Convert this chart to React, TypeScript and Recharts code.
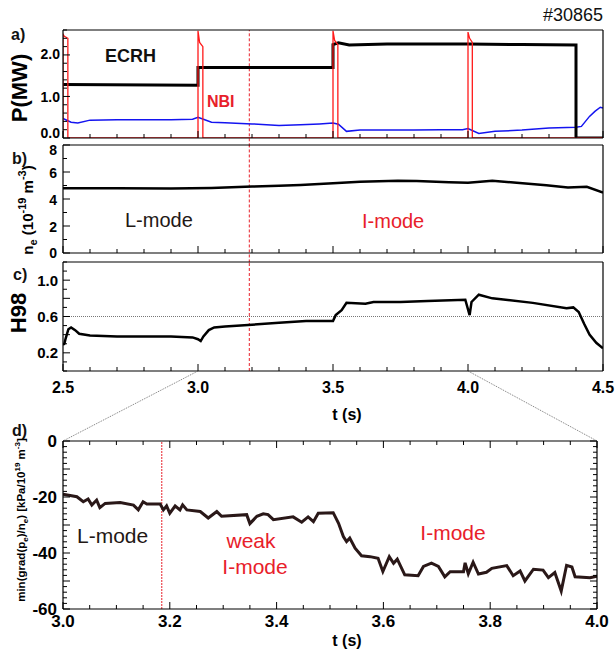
import React from "react";
import { LineChart, Line, XAxis, YAxis, ReferenceLine } from "recharts";

// a) heating power
const ecrhT = [2.5, 3.0, 3.0, 3.5, 3.5, 3.52, 3.56, 3.7, 4.0, 4.2, 4.4, 4.4, 4.5];
const ecrhP = [1.29, 1.27, 1.7, 1.7, 2.25, 2.29, 2.24, 2.26, 2.26, 2.25, 2.24, 0, 0];

const nbiT = [2.5, 2.5, 2.505, 2.518, 2.518, 3.0, 3.0, 3.006, 3.018, 3.018, 3.5, 3.5, 3.506, 3.518, 3.518, 4.0, 4.0, 4.006, 4.016, 4.016, 4.5];
const nbiP = [0, 2.5, 2.45, 2.4, 0, 0, 2.58, 2.3, 2.2, 0, 0, 2.58, 2.35, 2.25, 0, 0, 2.55, 2.4, 2.3, 0, 0];

const radT = [2.5, 2.51, 2.53, 2.555, 2.6, 2.7, 2.8, 2.9, 2.98, 3.0, 3.02, 3.05, 3.1, 3.2, 3.3, 3.38, 3.45, 3.5, 3.52, 3.55, 3.6, 3.7, 3.8, 3.9, 3.98, 4.0, 4.04, 4.1, 4.2, 4.3, 4.4, 4.42, 4.45, 4.47, 4.49, 4.5];
const radP = [0.47, 0.44, 0.38, 0.36, 0.43, 0.44, 0.44, 0.44, 0.45, 0.5, 0.45, 0.38, 0.37, 0.34, 0.3, 0.32, 0.34, 0.36, 0.33, 0.16, 0.19, 0.19, 0.19, 0.2, 0.2, 0.23, 0.11, 0.16, 0.19, 0.24, 0.26, 0.28, 0.52, 0.64, 0.74, 0.72];

// b) density
const neT = [2.5, 2.7, 2.9, 3.05, 3.15, 3.2, 3.3, 3.38, 3.5, 3.6, 3.74, 3.81, 3.93, 4.0, 4.09, 4.18, 4.29, 4.37, 4.44, 4.5];
const neV = [4.8, 4.8, 4.78, 4.82, 4.88, 4.92, 4.98, 5.04, 5.16, 5.28, 5.36, 5.33, 5.24, 5.2, 5.36, 5.2, 5.02, 4.85, 4.9, 4.47];

// c) confinement factor
const h98T = [2.5, 2.505, 2.51, 2.52, 2.53, 2.545, 2.56, 2.6, 2.7, 2.8, 2.9, 2.98, 3.0, 3.01, 3.02, 3.04, 3.06, 3.1, 3.2, 3.3, 3.4, 3.5, 3.51, 3.532, 3.55, 3.62, 3.65, 3.75, 3.85, 3.99, 4.006, 4.013, 4.04, 4.09, 4.24, 4.365, 4.39, 4.41, 4.43, 4.45, 4.475, 4.5];
const h98V = [0.29, 0.3, 0.36, 0.46, 0.48, 0.45, 0.41, 0.39, 0.38, 0.38, 0.38, 0.37, 0.35, 0.33, 0.38, 0.45, 0.48, 0.49, 0.51, 0.53, 0.55, 0.55, 0.615, 0.67, 0.75, 0.74, 0.76, 0.76, 0.77, 0.785, 0.615, 0.76, 0.84, 0.8, 0.75, 0.69, 0.7, 0.65, 0.52, 0.4, 0.31, 0.25];

// d) edge gradient
const gradT = [3.0, 3.026, 3.038, 3.047, 3.054, 3.063, 3.069, 3.079, 3.107, 3.132, 3.141, 3.15, 3.157, 3.182, 3.188, 3.194, 3.2, 3.21, 3.219, 3.224, 3.232, 3.257, 3.272, 3.288, 3.297, 3.344, 3.35, 3.363, 3.375, 3.384, 3.394, 3.431, 3.447, 3.459, 3.469, 3.478, 3.506, 3.516, 3.525, 3.531, 3.537, 3.547, 3.559, 3.575, 3.59, 3.599, 3.611, 3.619, 3.626, 3.64, 3.665, 3.675, 3.69, 3.703, 3.715, 3.725, 3.75, 3.753, 3.759, 3.768, 3.778, 3.793, 3.803, 3.831, 3.843, 3.856, 3.865, 3.881, 3.899, 3.909, 3.921, 3.933, 3.943, 3.953, 3.959, 3.987, 4.0];
const gradV = [-19.0, -19.9, -21.7, -20.7, -22.9, -21.1, -23.8, -22.3, -22.0, -22.9, -24.6, -21.7, -22.5, -22.5, -24.6, -23.2, -25.8, -23.2, -24.6, -22.8, -24.6, -25.2, -27.5, -25.2, -26.9, -26.3, -29.5, -26.9, -26.0, -26.3, -28.1, -27.1, -29.0, -27.1, -28.8, -25.8, -25.6, -29.4, -34.1, -35.9, -34.7, -38.3, -41.0, -41.3, -41.9, -46.6, -41.3, -43.7, -42.2, -47.8, -48.1, -44.8, -43.6, -44.8, -48.5, -46.7, -46.7, -43.5, -47.4, -43.3, -47.5, -46.9, -45.5, -44.5, -48.1, -46.4, -50.0, -45.8, -46.1, -48.8, -47.0, -53.6, -44.4, -45.0, -48.5, -48.8, -48.3];

// axis ticks
const xLabelsTop = [2.5, 3.0, 3.5, 4.0, 4.5];
const xLabelsZoom = [3.0, 3.2, 3.4, 3.6, 3.8, 4.0];
const yLabelsA = [0, 1, 2];
const yLabelsB = [0, 2, 4, 6, 8];
const yLabelsC = [0.2, 0.6, 1.0];
const yLabelsD = [0, -20, -40, -60];

const steps = (a: number, b: number, s: number) => {
  const out: number[] = [];
  const n = Math.round((b - a) / s);
  for (let i = 0; i <= n; i++) out.push(Math.round((a + i * s) * 1000) / 1000);
  return out;
};

const toPts = (t: number[], v: number[]) => t.map((x, i) => ({ t: x, v: v[i] }));

const FONT = "'Liberation Sans', Arial, Helvetica, sans-serif";
const RED = "#e8202a";
const W = 616;
const H = 652;
const LEFT = 63;
const MARG = 30;

const boxA = { top: 30, bottom: 138, right: 603 };
const boxB = { top: 145, bottom: 253, right: 603 };
const boxC = { top: 262, bottom: 371, right: 603 };
const boxD = { top: 441, bottom: 609, right: 597 };

const near = (arr: number[], v: number) => arr.some((m) => Math.abs(m - v) < 1e-6);

type TickOpts = {
  majors: number[];
  labels?: number[];
  fmt?: (v: number) => string;
  size?: number;
  gap?: number;
  nudge?: { [k: string]: number };
};

const tickFor = (side: "bottom" | "top" | "left" | "right", o: TickOpts) => (props: any) => {
  const { x, y, payload } = props;
  const v = payload.value;
  const len = near(o.majors, v) ? 7 : 4;
  const lab = o.labels && near(o.labels, v) ? (o.fmt ? o.fmt(v) : String(v)) : null;
  const dy = (o.nudge && o.nudge[String(v)]) || 0;
  let line;
  if (side === "bottom") line = <line x1={x} x2={x} y1={y} y2={y - len} stroke="#000" />;
  else if (side === "top") line = <line x1={x} x2={x} y1={y} y2={y + len} stroke="#000" />;
  else if (side === "left") line = <line x1={x} x2={x + len} y1={y} y2={y} stroke="#000" />;
  else line = <line x1={x} x2={x - len} y1={y} y2={y} stroke="#000" />;
  return (
    <g>
      {line}
      {lab !== null && side === "bottom" && (
        <text x={x} y={y + (o.gap || 20)} textAnchor="middle" fontFamily={FONT} fontWeight="bold" fontSize={o.size || 15} fill="#000">
          {lab}
        </text>
      )}
      {lab !== null && side === "left" && (
        <text x={x - (o.gap || 4)} y={y + 5.5 + dy} textAnchor="end" fontFamily={FONT} fontWeight="bold" fontSize={o.size || 15} fill="#000">
          {lab}
        </text>
      )}
    </g>
  );
};

type PanelProps = {
  box: { top: number; bottom: number; right: number };
  xDomain: [number, number];
  yDomain: [number, number];
  xTicks: number[];
  xOpts: TickOpts;
  yTicks: number[];
  yOpts: TickOpts;
  mirrorTicks?: boolean;
  children?: React.ReactNode;
};

// axes are 1px thick so Recharts still draws them; margins shrink by the same pixel
const Panel = ({ box, xDomain, yDomain, xTicks, xOpts, yTicks, yOpts, mirrorTicks, children }: PanelProps) => (
  <div style={{ position: "absolute", left: 0, top: box.top - MARG }}>
    <LineChart
      width={W}
      height={box.bottom - box.top + 2 * MARG}
      margin={{ top: MARG - 1, bottom: MARG - 1, left: LEFT - 1, right: W - box.right - 1 }}
    >
      <XAxis
        dataKey="t"
        type="number"
        domain={xDomain}
        allowDataOverflow
        ticks={xTicks}
        interval={0}
        height={1}
        tickSize={0}
        tickMargin={0}
        tickLine={false}
        axisLine={{ stroke: "#000", strokeWidth: 1.2 }}
        tick={tickFor("bottom", xOpts)}
      />
      <XAxis
        xAxisId="top"
        orientation="top"
        dataKey="t"
        type="number"
        domain={xDomain}
        allowDataOverflow
        ticks={xTicks}
        interval={0}
        height={1}
        tickSize={0}
        tickMargin={0}
        tickLine={false}
        axisLine={{ stroke: "#000", strokeWidth: 1.2 }}
        tick={mirrorTicks ? tickFor("top", { majors: xOpts.majors }) : false}
      />
      <YAxis
        type="number"
        domain={yDomain}
        allowDataOverflow
        ticks={yTicks}
        interval={0}
        width={1}
        tickSize={0}
        tickMargin={0}
        tickLine={false}
        axisLine={{ stroke: "#000", strokeWidth: 1.2 }}
        tick={tickFor("left", yOpts)}
      />
      <YAxis
        yAxisId="right"
        orientation="right"
        type="number"
        domain={yDomain}
        allowDataOverflow
        ticks={yTicks}
        interval={0}
        width={1}
        tickSize={0}
        tickMargin={0}
        tickLine={false}
        axisLine={{ stroke: "#000", strokeWidth: 1.2 }}
        tick={mirrorTicks ? tickFor("right", { majors: yOpts.majors }) : false}
      />
      {children}
    </LineChart>
  </div>
);

const xTopTicks = steps(2.5, 4.5, 0.1);
const xZoomTicks = steps(3.0, 4.0, 0.05);
const f1 = (v: number) => v.toFixed(1);

const App = () => {
  const xc = (t: number) => LEFT + ((t - 2.5) / 2) * (boxC.right - LEFT);
  return (
    <div style={{ position: "absolute", left: 0, top: 0, width: W, height: H, background: "#fff" }}>
      <Panel
        box={boxA}
        xDomain={[2.5, 4.5]}
        yDomain={[0, 2.6]}
        xTicks={xTopTicks}
        xOpts={{ majors: xLabelsTop }}
        yTicks={steps(0, 2.6, 0.2)}
        yOpts={{ majors: yLabelsA, labels: yLabelsA, fmt: f1, gap: 3, size: 14, nudge: { "0": -6, "2": -1 } }}
      >
        <ReferenceLine
          ifOverflow="visible"
          segment={[{ x: 3.19, y: -0.2 }, { x: 3.19, y: 2.6 }]}
          stroke={RED}
          strokeDasharray="3 2"
        />
        <Line data={toPts(radT, radP)} dataKey="v" type="linear" dot={false} stroke="#1414f0" strokeWidth={1.5} isAnimationActive={false} />
        <Line data={toPts(ecrhT, ecrhP)} dataKey="v" type="linear" dot={false} stroke="#000" strokeWidth={3} isAnimationActive={false} />
        <Line data={toPts(nbiT, nbiP)} dataKey="v" type="linear" dot={false} stroke="#ff1a1a" strokeWidth={1.3} isAnimationActive={false} />
      </Panel>

      <Panel
        box={boxB}
        xDomain={[2.5, 4.5]}
        yDomain={[0, 8]}
        xTicks={xTopTicks}
        xOpts={{ majors: xLabelsTop }}
        yTicks={steps(0, 8, 1)}
        yOpts={{ majors: yLabelsB, labels: yLabelsB, gap: 6, size: 14, nudge: { "8": 4, "0": -1 } }}
      >
        <ReferenceLine
          ifOverflow="visible"
          segment={[{ x: 3.19, y: -0.7 }, { x: 3.19, y: 8 }]}
          stroke={RED}
          strokeDasharray="3 2"
        />
        <Line data={toPts(neT, neV)} dataKey="v" type="linear" dot={false} stroke="#000" strokeWidth={2.5} isAnimationActive={false} />
      </Panel>

      <Panel
        box={boxC}
        xDomain={[2.5, 4.5]}
        yDomain={[0, 1.2]}
        xTicks={xTopTicks}
        xOpts={{ majors: xLabelsTop, labels: xLabelsTop, fmt: f1, size: 16, gap: 22 }}
        yTicks={steps(0, 1.2, 0.1)}
        yOpts={{ majors: [0.2, 0.4, 0.6, 0.8, 1.0], labels: yLabelsC, fmt: f1, gap: 5 }}
      >
        <ReferenceLine y={0.6} stroke="#777" strokeDasharray="1 1" />
        <ReferenceLine x={3.19} stroke={RED} strokeDasharray="3 2" />
        <Line data={toPts(h98T, h98V)} dataKey="v" type="linear" dot={false} stroke="#000" strokeWidth={2.5} isAnimationActive={false} />
      </Panel>

      <Panel
        box={boxD}
        xDomain={[3.0, 4.0]}
        yDomain={[-60, 0]}
        xTicks={xZoomTicks}
        xOpts={{ majors: xLabelsZoom, labels: xLabelsZoom, fmt: f1, size: 17, gap: 18 }}
        yTicks={steps(-60, 0, 2)}
        yOpts={{ majors: [0, -10, -20, -30, -40, -50, -60], labels: yLabelsD, size: 17, gap: 6 }}
        mirrorTicks
      >
        <ReferenceLine x={3.185} stroke={RED} strokeDasharray="2 1" />
        <Line data={toPts(gradT, gradV)} dataKey="v" type="linear" dot={false} stroke="#2a1818" strokeWidth={3} isAnimationActive={false} />
      </Panel>

      <svg width={W} height={H} style={{ position: "absolute", left: 0, top: 0, pointerEvents: "none", fontFamily: FONT }}>
        <line x1={xc(3.0)} y1={boxC.bottom} x2={LEFT} y2={boxD.top} stroke="#555" strokeWidth={0.8} strokeDasharray="1 1" />
        <line x1={xc(4.0)} y1={boxC.bottom} x2={boxD.right} y2={boxD.top} stroke="#555" strokeWidth={0.8} strokeDasharray="1 1" />

        <text x={603} y={21} textAnchor="end" fontSize={18} fill="#111">#30865</text>

        <g fontWeight="bold" fontSize={16} fill="#111">
          <text x={11} y={40}>a)</text>
          <text x={12} y={164}>b)</text>
          <text x={13} y={280}>c)</text>
          <text x={12} y={436}>d)</text>
        </g>

        <text transform="translate(27,88) rotate(-90)" textAnchor="middle" fontWeight="bold" fontSize={22} fill="#000">P(MW)</text>
        <text transform="translate(33,210) rotate(-90)" textAnchor="middle" fontWeight="bold" fontSize={15} fill="#000">
          n<tspan dy={4} fontSize={11}>e</tspan>
          <tspan dy={-4}> (10</tspan>
          <tspan dy={-7} fontSize={11}>-19</tspan>
          <tspan dy={7}> m</tspan>
          <tspan dy={-7} fontSize={11}>-3</tspan>
          <tspan dy={7}>)</tspan>
        </text>
        <text transform="translate(26,313) rotate(-90)" textAnchor="middle" fontWeight="bold" fontSize={22} fill="#000">H98</text>
        <text transform="translate(25,520) rotate(-90)" textAnchor="middle" fontWeight="bold" fontSize={11.5} fill="#000">
          min(grad(p<tspan dy={3} fontSize={8}>e</tspan>
          <tspan dy={-3}>)/n</tspan>
          <tspan dy={3} fontSize={8}>e</tspan>
          <tspan dy={-3}>) [kPa/10</tspan>
          <tspan dy={-5} fontSize={8}>19</tspan>
          <tspan dy={5}> m</tspan>
          <tspan dy={-5} fontSize={8}>-3</tspan>
          <tspan dy={5}>]</tspan>
        </text>

        <text x={347} y={420} textAnchor="middle" fontWeight="bold" fontSize={16} fill="#000">t (s)</text>
        <text x={347} y={646} textAnchor="middle" fontWeight="bold" fontSize={16} fill="#000">t (s)</text>

        <text x={105} y={62} fontWeight="bold" fontSize={18} fill="#111">ECRH</text>
        <text x={207} y={107} fontWeight="bold" fontSize={16} fill={RED}>NBI</text>
        <text x={125} y={227} fontSize={20} fill="#231815">L-mode</text>
        <text x={362} y={228} fontSize={20} fill={RED}>I-mode</text>
        <text x={77} y={543} fontSize={21} fill="#231815">L-mode</text>
        <text x={251} y={548} textAnchor="middle" fontSize={21} fill={RED}>weak</text>
        <text x={255} y={574} textAnchor="middle" fontSize={21} fill={RED}>I-mode</text>
        <text x={453} y={540} textAnchor="middle" fontSize={21} fill={RED}>I-mode</text>
      </svg>
    </div>
  );
};

export default App;
